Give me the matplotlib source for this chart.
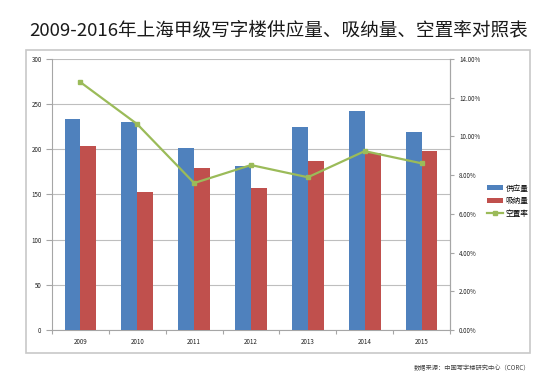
import matplotlib.pyplot as plt
import numpy as np
from matplotlib.patches import Rectangle
from matplotlib.ticker import FuncFormatter

plt.rcParams['font.family'] = ['Noto Sans CJK SC', 'DejaVu Sans']

years = ['2009', '2010', '2011', '2012', '2013', '2014', '2015']
supply = [234, 230, 202, 181, 225, 242, 219]
absorb = [204, 153, 179, 157, 187, 196, 198]
vacancy = [12.80, 10.63, 7.59, 8.52, 7.89, 9.24, 8.61]

blue = '#4F81BD'
red = '#C0504D'
green = '#9BBB59'
gray = '#A6A6A6'

fig = plt.figure(figsize=(5.57, 3.83), dpi=100)
fig.patch.set_facecolor('white')

# outer chart frame
fig.patches.append(Rectangle((0.0467, 0.078), 0.905, 0.791, transform=fig.transFigure,
                             fill=False, edgecolor='#C8C8C8', linewidth=1.2))

fig.text(0.5, 0.92, '2009-2016年上海甲级写字楼供应量、吸纳量、空置率对照表',
         ha='center', va='center', fontsize=13.4, color='#1a1a1a')
fig.text(0.952, 0.04, '数据来源：中国写字楼研究中心（CORC）', ha='right', va='center',
         fontsize=4.5, color='#444444')

ax = fig.add_axes([0.0934, 0.1384, 0.7145, 0.7076])
x = np.arange(len(years))
w = 0.28
ax.bar(x - w / 2, supply, w, color=blue, label='供应量', zorder=3)
ax.bar(x + w / 2, absorb, w, color=red, label='吸纳量', zorder=3)
ax.set_xlim(-0.5, len(years) - 0.5)
ax.set_ylim(0, 300)
ax.set_yticks(range(0, 301, 50))
ax.yaxis.grid(True, color='#BEBEBE', linewidth=0.8, zorder=0)
ax.set_xticks(x)
ax.set_xticklabels(years)
ax.set_xticks(np.arange(-0.5, len(years), 1), minor=True)
ax.tick_params(axis='x', which='major', length=0, labelsize=4.5, pad=6, colors='#222222')
ax.tick_params(axis='x', which='minor', length=3, color=gray, width=0.8)
ax.tick_params(axis='y', length=4, color=gray, width=0.8, labelsize=4.5, colors='#222222')
for s in ['left', 'bottom', 'right']:
    ax.spines[s].set_color(gray)
    ax.spines[s].set_linewidth(0.8)
ax.spines['top'].set_visible(False)

ax2 = ax.twinx()
ax2.plot(x, vacancy, color=green, linewidth=1.6, marker='s', markersize=3,
         label='空置率', zorder=4)
ax2.set_ylim(0, 14)
ax2.set_yticks(np.arange(0, 14.01, 2))
ax2.yaxis.set_major_formatter(FuncFormatter(lambda v, p: '%.2f%%' % v))
ax2.tick_params(axis='y', length=3, color=gray, width=0.8, labelsize=4.5, colors='#222222')
for s in ['left', 'bottom', 'top']:
    ax2.spines[s].set_visible(False)
ax2.spines['right'].set_color(gray)
ax2.spines['right'].set_linewidth(0.8)

h1, l1 = ax.get_legend_handles_labels()
h2, l2 = ax2.get_legend_handles_labels()
fig.legend(h1 + h2, l1 + l2, loc='center left', bbox_to_anchor=(0.868, 0.475),
           frameon=False, fontsize=5.5, handlelength=2.2, handleheight=0.6,
           labelspacing=0.6, handletextpad=0.3, borderaxespad=0)

fig.savefig('out.png', dpi=100)
